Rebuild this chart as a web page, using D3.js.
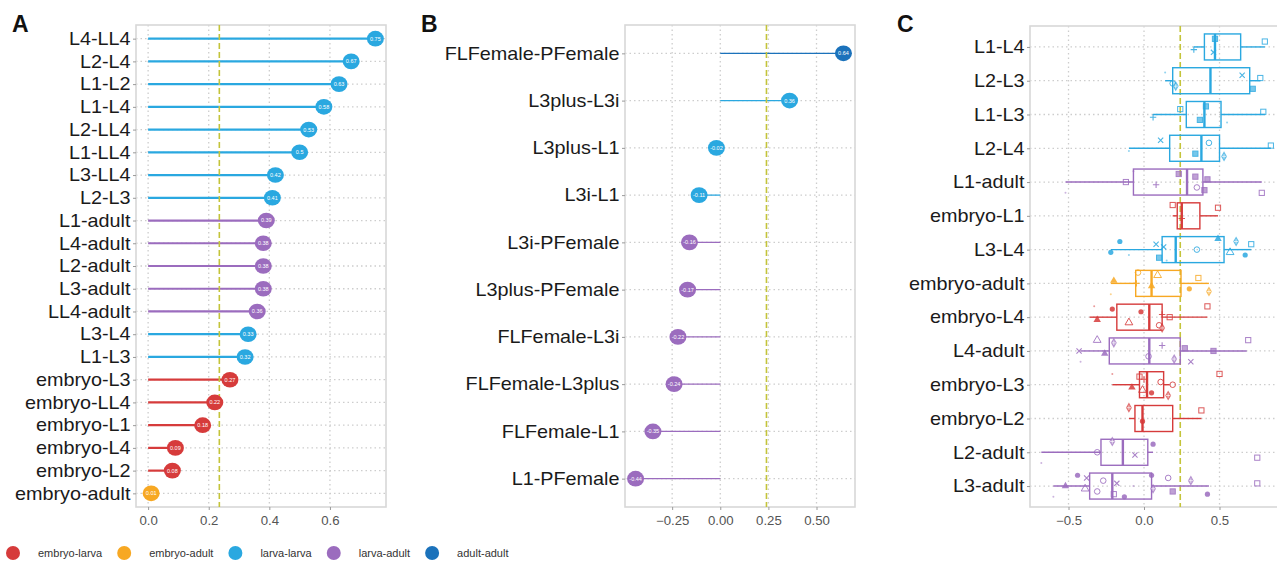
<!DOCTYPE html>
<html>
<head>
<meta charset="utf-8">
<script src="https://cdn.jsdelivr.net/npm/d3@7"></script>
<style>
  body { margin: 0; background: #fff; }
  svg { font-family: "Liberation Sans", Arial, Helvetica, sans-serif; }
</style>
</head>
<body>
<svg id="fig"></svg>
<script>
// ---- groups / legend ----
const groupKeys = ["EL", "EA", "LL", "LA", "AA"];
const groupNames = ["embryo-larva", "embryo-adult", "larva-larva", "larva-adult", "adult-adult"];
const groupColors = ["#d63b3b", "#f7a823", "#2aa8e0", "#9b6cbe", "#1b72bb"];

// ---- panel A ----
const aLabels = ["L4-LL4","L2-L4","L1-L2","L1-L4","L2-LL4","L1-LL4","L3-LL4","L2-L3","L1-adult","L4-adult",
  "L2-adult","L3-adult","LL4-adult","L3-L4","L1-L3","embryo-L3","embryo-LL4","embryo-L1","embryo-L4","embryo-L2","embryo-adult"];
const aValues = [0.75,0.67,0.63,0.58,0.53,0.50,0.42,0.41,0.39,0.38,0.38,0.38,0.36,0.33,0.32,0.27,0.22,0.18,0.09,0.08,0.01];
const aGroups = ["LL","LL","LL","LL","LL","LL","LL","LL","LA","LA","LA","LA","LA","LL","LL","EL","EL","EL","EL","EL","EA"];
const aTicks = [0, 0.2, 0.4, 0.6];
const aRef = 0.235;

// ---- panel B ----
const bLabels = ["FLFemale-PFemale","L3plus-L3i","L3plus-L1","L3i-L1","L3i-PFemale","L3plus-PFemale",
  "FLFemale-L3i","FLFemale-L3plus","FLFemale-L1","L1-PFemale"];
const bValues = [0.64,0.36,-0.02,-0.11,-0.16,-0.17,-0.22,-0.24,-0.35,-0.44];
const bGroups = ["AA","LL","LL","LL","LA","LA","LA","LA","LA","LA"];
const bTicks = [-0.25, 0, 0.25, 0.5];
const bRef = 0.24;

// ---- panel C ----
const cLabels = ["L1-L4","L2-L3","L1-L3","L2-L4","L1-adult","embryo-L1","L3-L4","embryo-adult",
  "embryo-L4","L4-adult","embryo-L3","embryo-L2","L2-adult","L3-adult"];
const cGroups = ["LL","LL","LL","LL","LA","EL","LL","EA","EL","LA","EL","EL","LA","LA"];
const cLo  = [0.33, 0.14, 0.06, -0.10, -0.52, 0.19, -0.22, -0.22, -0.36, -0.42, -0.21, -0.10, -0.68, -0.60];
const cQ1  = [0.40, 0.19, 0.28, 0.17, -0.07, 0.22, 0.12, -0.055, -0.18, -0.23, -0.03, -0.06, -0.285, -0.36];
const cMed = [0.47, 0.44, 0.40, 0.38, 0.285, 0.25, 0.21, 0.05, 0.035, 0.035, 0.02, -0.01, -0.14, -0.21];
const cQ3  = [0.64, 0.70, 0.51, 0.50, 0.39, 0.37, 0.53, 0.245, 0.12, 0.24, 0.13, 0.19, 0.025, 0.05];
const cHi  = [0.80, 0.77, 0.80, 0.84, 0.78, 0.49, 0.71, 0.43, 0.42, 0.68, 0.17, 0.38, 0.06, 0.43];
// individual values per row: [value, shape]
const cPoints = [
  [[0.33,"plus"],[0.47,"sqf"],[0.46,"x"],[0.80,"sq"]],
  [[0.19,"ci"],[0.14,"dot"],[0.21,"dia"],[0.65,"x"],[0.72,"sqf"],[0.77,"sq"]],
  [[0.06,"plus"],[0.41,"sqf"],[0.37,"sqf"],[0.24,"sq"],[0.55,"dot"],[0.79,"sq"]],
  [[-0.10,"dot"],[0.11,"x"],[0.34,"sqf"],[0.43,"ci"],[0.53,"dia"],[0.84,"sq"]],
  [[-0.52,"dot"],[-0.12,"sq"],[-0.07,"dot"],[0.08,"plus"],[0.23,"sqf"],[0.35,"ci"],[0.34,"sqf"],[0.40,"sqf"],[0.42,"sqf"],[0.78,"sq"]],
  [[0.19,"sq"],[0.25,"plus"],[0.49,"sq"]],
  [[-0.22,"cif"],[-0.16,"cif"],[-0.10,"dot"],[0.08,"x"],[0.10,"sqf"],[0.13,"x"],[0.15,"dot"],[0.35,"ci"],[0.49,"trif"],[0.57,"tri"],[0.61,"dia"],[0.67,"cif"],[0.71,"sq"]],
  [[-0.20,"trif"],[-0.22,"dot"],[-0.05,"plus"],[-0.04,"ci"],[0.05,"trif"],[0.09,"tri"],[0.30,"cif"],[0.36,"sq"],[0.43,"dia"]],
  [[-0.33,"dot"],[-0.31,"trif"],[-0.21,"cif"],[-0.10,"tri"],[-0.02,"cif"],[0.10,"ci"],[0.12,"plus"],[0.12,"dia"],[0.17,"sq"],[0.42,"sq"]],
  [[-0.42,"dot"],[-0.43,"x"],[-0.31,"tri"],[-0.26,"trif"],[-0.20,"dia"],[0.03,"ci"],[0.12,"plus"],[0.20,"dia"],[0.27,"sqf"],[0.31,"x"],[0.46,"sqf"],[0.69,"sq"]],
  [[-0.21,"dot"],[-0.08,"trif"],[-0.03,"sq"],[-0.01,"tri"],[0.0,"plus"],[0.05,"cif"],[0.11,"ci"],[0.16,"dia"],[0.19,"ci"],[0.50,"sq"]],
  [[-0.10,"dia"],[-0.01,"cif"],[0.38,"sq"]],
  [[-0.68,"dot"],[-0.31,"ci"],[-0.21,"dia"],[-0.06,"x"],[0.06,"cif"],[0.75,"sq"]],
  [[-0.60,"dot"],[-0.52,"trif"],[-0.44,"cif"],[-0.39,"tri"],[-0.38,"x"],[-0.31,"ci"],[-0.27,"ci"],[-0.20,"sq"],[-0.18,"x"],
   [-0.13,"cif"],[-0.07,"dot"],[0.05,"cif"],[0.06,"dia"],[0.16,"ci"],[0.19,"sqf"],[0.31,"dia"],[0.42,"cif"],[0.75,"sq"]]
];
const cTicks = [-0.5, 0, 0.5, 1.0];
const cRef = 0.24;

// ---------------------------------------------------------------
const W = 1277, H = 561;
const svg = d3.select("#fig").attr("width", W).attr("height", H);
const palette = d3.scaleOrdinal().domain(groupKeys).range(groupColors);
const stretch = "scale(1.1,1)";

function frame(box, x, y, ticks, fmt, shownTicks) {
  const g = svg.append("g");
  g.selectAll(".hg").data(y.domain()).enter().append("line")
    .attr("x1", box.l).attr("x2", box.r)
    .attr("y1", d => y(d)).attr("y2", d => y(d))
    .attr("stroke", "#cdcdcd").attr("stroke-width", 1.3).attr("stroke-dasharray", "1.5,3");
  g.selectAll(".vg").data(ticks).enter().append("line")
    .attr("x1", d => x(d)).attr("x2", d => x(d))
    .attr("y1", box.t).attr("y2", box.b)
    .attr("stroke", "#cdcdcd").attr("stroke-width", 1.3).attr("stroke-dasharray", "1.5,3");
  g.append("rect")
    .attr("x", box.l).attr("y", box.t)
    .attr("width", box.r - box.l).attr("height", box.b - box.t)
    .attr("fill", "none").attr("stroke", "#d8d8d8").attr("stroke-width", 1.6);

  const xa = g.append("g").attr("transform", "translate(0," + box.b + ")")
    .call(d3.axisBottom(x).tickValues(shownTicks).tickFormat(fmt).tickSize(3).tickPadding(6));
  xa.select(".domain").remove();
  xa.selectAll("line").attr("stroke", "#9a9a9a");
  xa.selectAll("text").attr("font-size", 12).attr("fill", "#555")
    .attr("font-family", "Liberation Sans, Arial").attr("transform", stretch);

  const ya = g.append("g").attr("transform", "translate(" + box.l + ",0)")
    .call(d3.axisLeft(y).tickSize(3).tickPadding(2));
  ya.select(".domain").remove();
  ya.selectAll("line").attr("stroke", "#9a9a9a");
  ya.selectAll("text").attr("font-size", 18).attr("fill", "#1a1a1a")
    .attr("font-family", "Liberation Sans, Arial").attr("transform", stretch);
  return g;
}

function refLine(g, box, x, v) {
  g.append("line")
    .attr("x1", x(v)).attr("x2", x(v)).attr("y1", box.t).attr("y2", box.b)
    .attr("stroke", "#c4c43a").attr("stroke-width", 1.6).attr("stroke-dasharray", "6,3");
}

function lollipop(box, labels, values, groups, domain, ticks, fmt, stemW) {
  const rows = labels.map((k, i) => ({ k: k, v: values[i], grp: groups[i] }));
  const x = d3.scaleLinear().domain(domain).range([box.l, box.r]);
  const y = d3.scalePoint().domain(labels).range([box.t, box.b]).padding(0.6);
  const g = frame(box, x, y, ticks, fmt, ticks);
  return { g: g, x: x, y: y, rows: rows, stemW: stemW };
}

function drawLollipops(p, refV, box) {
  const { g, x, y, rows, stemW } = p;
  g.selectAll(".stem").data(rows).enter().append("line")
    .attr("x1", x(0)).attr("x2", d => x(d.v))
    .attr("y1", d => y(d.k)).attr("y2", d => y(d.k))
    .attr("stroke", d => palette(d.grp)).attr("stroke-width", stemW);
  refLine(g, box, x, refV);
  const dots = g.selectAll(".dot").data(rows).enter().append("g")
    .attr("transform", d => "translate(" + x(d.v) + "," + y(d.k) + ")");
  dots.append("ellipse").attr("rx", 8.5).attr("ry", 7.8)
    .attr("fill", d => palette(d.grp));
  dots.append("text")
    .attr("text-anchor", "middle").attr("dy", "0.35em")
    .attr("font-size", 5.5).attr("fill", "#fff")
    .text(d => d3.format(".2~f")(d.v).replace("−", "-"));
}

// Panel A
const boxA = { l: 136, r: 386, t: 25, b: 507 };
const pA = lollipop(boxA, aLabels, aValues, aGroups, [-0.04, 0.785], aTicks, d3.format(".1f"), 2.2);
drawLollipops(pA, aRef, boxA);

// Panel B
const boxB = { l: 625, r: 855, t: 25, b: 507 };
const pB = lollipop(boxB, bLabels, bValues, bGroups, [-0.495, 0.70], bTicks, d3.format(".2f"), 1.3);
drawLollipops(pB, bRef, boxB);

// Panel C
const boxC = { l: 1030, r: 1300, t: 26, b: 507 };
const xC = d3.scaleLinear().domain([-0.755, 1.033]).range([boxC.l, boxC.r]);
const yC = d3.scalePoint().domain(cLabels).range([boxC.t, boxC.b]).padding(0.62);
const gC = frame(boxC, xC, yC, cTicks, d3.format(".1f"), [-0.5, 0, 0.5]);
refLine(gC, boxC, xC, cRef);

const boxes = cLabels.map((k, i) => ({
  k: k, grp: cGroups[i], lo: cLo[i], q1: cQ1[i], med: cMed[i], q3: cQ3[i], hi: cHi[i], pts: cPoints[i]
}));
const bh = yC.step() * 0.77;
const bx = gC.selectAll(".box").data(boxes).enter().append("g")
  .attr("transform", d => "translate(0," + yC(d.k) + ")");
bx.append("line").attr("x1", d => xC(d.lo)).attr("x2", d => xC(d.q1))
  .attr("stroke", d => palette(d.grp)).attr("stroke-width", 1.4);
bx.append("line").attr("x1", d => xC(d.q3)).attr("x2", d => xC(d.hi))
  .attr("stroke", d => palette(d.grp)).attr("stroke-width", 1.4);
bx.append("rect").attr("x", d => xC(d.q1)).attr("y", -bh / 2)
  .attr("width", d => xC(d.q3) - xC(d.q1)).attr("height", bh)
  .attr("fill", "none").attr("stroke", d => palette(d.grp)).attr("stroke-width", 1.4);
bx.append("line").attr("x1", d => xC(d.med)).attr("x2", d => xC(d.med))
  .attr("y1", -bh / 2).attr("y2", bh / 2)
  .attr("stroke", d => palette(d.grp)).attr("stroke-width", 2.4);

// point shapes
function shape(sel, s, col) {
  if (s === "sq") {
    sel.append("rect").attr("x", -2.6).attr("y", -2.6).attr("width", 5.2).attr("height", 5.2)
      .attr("fill", "none").attr("stroke", col).attr("stroke-width", 1);
    return;
  }
  if (s === "sqf") {
    sel.append("rect").attr("x", -2.6).attr("y", -2.6).attr("width", 5.2).attr("height", 5.2)
      .attr("fill", col).attr("fill-opacity", 0.75).attr("stroke", col);
    return;
  }
  if (s === "ci") { sel.append("circle").attr("r", 2.8).attr("fill", "none").attr("stroke", col).attr("stroke-width", 1); return; }
  if (s === "cif") { sel.append("circle").attr("r", 2.6).attr("fill", col); return; }
  if (s === "tri") { sel.append("path").attr("d", d3.symbol(d3.symbolTriangle, 26)()).attr("fill", "none").attr("stroke", col); return; }
  if (s === "trif") { sel.append("path").attr("d", d3.symbol(d3.symbolTriangle, 24)()).attr("fill", col); return; }
  if (s === "plus") { sel.append("path").attr("d", "M-3.2,0H3.2M0,-3.2V3.2").attr("stroke", col).attr("stroke-width", 1.1); return; }
  if (s === "x") { sel.append("path").attr("d", "M-2.6,-2.6L2.6,2.6M-2.6,2.6L2.6,-2.6").attr("stroke", col).attr("stroke-width", 1.1); return; }
  if (s === "dia") {
    sel.append("path").attr("d", d3.symbol(d3.symbolDiamond, 30)()).attr("fill", col).attr("fill-opacity", 0.85);
    sel.append("path").attr("d", "M-2.2,0H2.2M0,-2.2V2.2").attr("stroke", "#fff").attr("stroke-width", 0.7);
    return;
  }
  sel.append("circle").attr("r", 1).attr("fill", col).attr("fill-opacity", 0.6);
}

// jitter: fixed offset pattern from the point index, not random
boxes.forEach(b => {
  const col = palette(b.grp);
  b.pts.forEach((p, j) => {
    const dy = (((j * 5 + b.k.length) % 9) - 4) * 2.7;
    const s = gC.append("g").attr("transform", "translate(" + xC(p[0]) + "," + (yC(b.k) + dy) + ")")
      .attr("opacity", 0.85);
    shape(s, p[1], col);
  });
});

// panel letters
[["A", 12, 32], ["B", 421, 32], ["C", 897, 32]].forEach(t => {
  svg.append("text").attr("x", t[1]).attr("y", t[2])
    .attr("font-size", 23).attr("font-weight", "bold").attr("fill", "#111").text(t[0]);
});

// legend
const leg = svg.append("g");
let lx = 13;
groupKeys.forEach((k, i) => {
  leg.append("circle").attr("cx", lx).attr("cy", 553).attr("r", 7).attr("fill", palette(k));
  const t = leg.append("text").attr("x", lx + 25).attr("y", 553)
    .attr("dy", "0.35em").attr("font-size", 11).attr("fill", "#333").text(groupNames[i]);
  lx = lx + 25 + t.node().getComputedTextLength() + 22;
});
</script>
</body>
</html>
